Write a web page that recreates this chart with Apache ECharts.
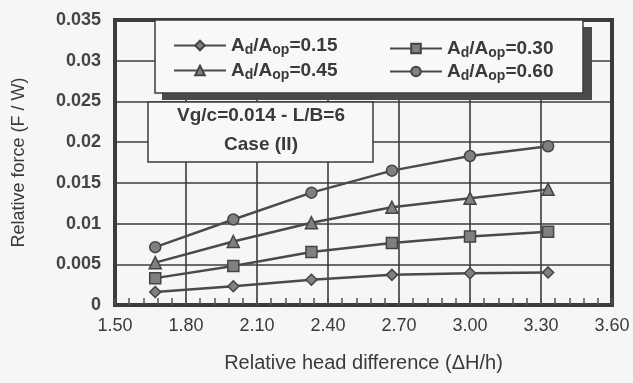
<!DOCTYPE html>
<html>
<head>
<meta charset="utf-8">
<script src="https://cdn.jsdelivr.net/npm/echarts@6/dist/echarts.min.js"></script>
<style>
  html, body { margin: 0; padding: 0; background: #f6f6f4; }
  #chart { width: 633px; height: 383px; }
</style>
</head>
<body>
<div id="chart"></div>
<script>
// 数据
var xValues = [1.67, 2.0, 2.33, 2.67, 3.0, 3.33];
var ratio015 = [0.0016, 0.0023, 0.0031, 0.0037, 0.0039, 0.0040];
var ratio030 = [0.0033, 0.0048, 0.0065, 0.0076, 0.0084, 0.0090];
var ratio045 = [0.0052, 0.0078, 0.0101, 0.0120, 0.0131, 0.0142];
var ratio060 = [0.0071, 0.0105, 0.0138, 0.0165, 0.0183, 0.0195];
var seriesNames = ['Ad/Aop=0.15', 'Ad/Aop=0.30', 'Ad/Aop=0.45', 'Ad/Aop=0.60'];
var seriesSymbols = ['diamond', 'rect', 'triangle', 'circle'];

var chart = echarts.init(document.getElementById('chart'));

function pairs(ys) {
  return xValues.map(function (x, i) { return [x, ys[i]]; });
}

function makeSeries(name, ys, symbol) {
  return {
    name: name,
    type: 'line',
    data: pairs(ys),
    symbol: symbol,
    symbolSize: symbol === 'triangle' ? 12 : 11,
    lineStyle: { color: '#4a4a4a', width: 2.5 },
    itemStyle: { color: '#808080', borderColor: '#444', borderWidth: 1.5 },
    z: 5
  };
}

// 图例文字: A_d/A_op 下标
function legendText(name) {
  return '{t|A}{s|d}{t|/A}{s|op}{t|=' + name.split('=')[1] + '}';
}
var legendRich = {
  t: { fontSize: 19, fontWeight: 'bold', color: '#3a3a3a', fontFamily: 'Liberation Sans' },
  s: { fontSize: 14, fontWeight: 'bold', color: '#3a3a3a', fontFamily: 'Liberation Sans', padding: [9, 0, 0, 0] }
};

var option = {
  backgroundColor: '#f6f6f4',
  animation: false,
  grid: {
    left: 115, right: 21, top: 20, bottom: 78,
    show: true, borderColor: '#3c3c3c', borderWidth: 4, backgroundColor: 'transparent'
  },
  legend: [{
    data: [seriesNames[0], seriesNames[2]],
    orient: 'vertical', left: 168, top: 31, itemGap: 4,
    itemWidth: 52, itemHeight: 12,
    formatter: legendText, textStyle: { rich: legendRich }, z: 20
  }, {
    data: [seriesNames[1], seriesNames[3]],
    orient: 'vertical', left: 384, top: 34, itemGap: 2,
    itemWidth: 52, itemHeight: 12,
    formatter: legendText, textStyle: { rich: legendRich }, z: 20
  }],
  xAxis: {
    type: 'value', min: 1.5, max: 3.6, interval: 0.3,
    name: 'Relative head difference (ΔH/h)',
    nameLocation: 'middle', nameGap: 48,
    nameTextStyle: { fontSize: 20, color: '#3a3a3a', fontFamily: 'Liberation Sans' },
    axisLine: { lineStyle: { color: '#3c3c3c', width: 4 } },
    axisTick: { show: true, inside: true, length: 7, lineStyle: { color: '#555', width: 1.5 } },
    minorTick: { show: true, splitNumber: 5, length: 7, lineStyle: { color: '#555', width: 1.5 } },
    axisLabel: {
      margin: 12, fontSize: 18, color: '#3a3a3a', fontFamily: 'Liberation Sans',
      formatter: function (v) { return v.toFixed(2); }
    },
    splitLine: { show: true, lineStyle: { color: '#3c3c3c', width: 1.6 } }
  },
  yAxis: {
    type: 'value', min: 0, max: 0.035, interval: 0.005,
    name: 'Relative force (F / W)',
    nameLocation: 'middle', nameGap: 87,
    nameTextStyle: { fontSize: 18, color: '#3a3a3a', fontFamily: 'Liberation Sans' },
    axisLine: { lineStyle: { color: '#3c3c3c', width: 4 } },
    axisTick: { show: false },
    axisLabel: { margin: 14, fontSize: 18, fontWeight: 'bold', color: '#444', fontFamily: 'Liberation Sans' },
    splitLine: { show: true, lineStyle: { color: '#3c3c3c', width: 1.6 } }
  },
  graphic: [
    // 图例框 (带阴影)
    { type: 'rect', shape: { x: 162, y: 27, width: 430, height: 73 }, style: { fill: '#4a4a4a' }, z: 10 },
    { type: 'rect', shape: { x: 155, y: 20, width: 428, height: 73 },
      style: { fill: '#f8f8f6', stroke: '#3c3c3c', lineWidth: 1.5 }, z: 11 },
    // 说明框
    { type: 'rect', shape: { x: 148, y: 102, width: 225, height: 60 },
      style: { fill: '#f8f8f6', stroke: '#3c3c3c', lineWidth: 1.5 }, z: 11 },
    { type: 'text', x: 261, y: 116, z: 12,
      style: { text: 'Vg/c=0.014 - L/B=6', fill: '#3a3a3a', font: 'bold 19px "Liberation Sans"', align: 'center', verticalAlign: 'middle' } },
    { type: 'text', x: 261, y: 145, z: 12,
      style: { text: 'Case (II)', fill: '#3a3a3a', font: 'bold 19px "Liberation Sans"', align: 'center', verticalAlign: 'middle' } }
  ],
  series: [
    makeSeries(seriesNames[0], ratio015, seriesSymbols[0]),
    makeSeries(seriesNames[1], ratio030, seriesSymbols[1]),
    makeSeries(seriesNames[2], ratio045, seriesSymbols[2]),
    makeSeries(seriesNames[3], ratio060, seriesSymbols[3])
  ]
};

chart.setOption(option);
</script>
</body>
</html>
